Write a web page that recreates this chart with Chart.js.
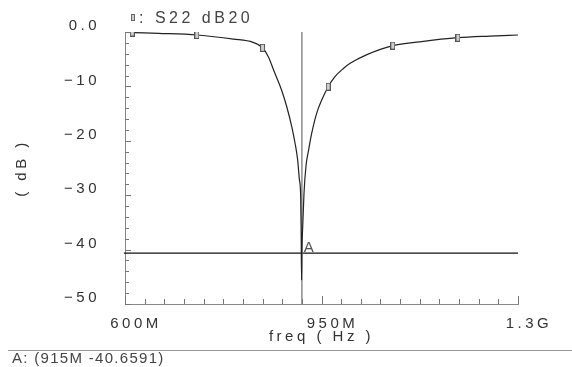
<!DOCTYPE html>
<html>
<head>
<meta charset="utf-8">
<script src="https://cdn.jsdelivr.net/npm/chart.js@4/dist/chart.umd.min.js"></script>
<style>
  body { margin: 0; background: #fff; }
  #wrap { position: relative; width: 572px; height: 367px; }
  #legend {
    position: absolute; left: 131px; top: 10px;
    font: 16px/16px "Liberation Sans", sans-serif; letter-spacing: 3.5px; color: #444;
    white-space: nowrap;
  }
  #legend .mk {
    display: inline-block; width: 2px; height: 5px; border: 1px solid #666;
    background: #ccc; margin-right: 4px; vertical-align: 2px;
  }
  #rule { position: absolute; left: 8px; right: 0; top: 350px; border-top: 1px solid #999; }
  #readout {
    position: absolute; left: 12px; top: 350px;
    font: 15px/15px "Liberation Sans", sans-serif; letter-spacing: 1.3px; color: #444;
    white-space: nowrap;
  }
</style>
</head>
<body>
<div id="wrap">
  <canvas id="c" width="572" height="367" style="width:572px;height:367px"></canvas>
  <div id="legend"><span class="mk"></span>: S22 dB20</div>
  <div id="rule"></div>
  <div id="readout">A: (915M -40.6591)</div>
</div>
<script>
// S22 sweep, frequency in MHz
const freqMHz = [600, 613, 660, 728, 793, 828, 845, 855, 867, 879, 888, 897, 903, 907.5, 910.5, 913, 913.8,
  914.5, 915, 916.5, 918.8, 922.5, 926.5, 932.6, 941.5, 950.4, 962, 974, 989, 1001, 1030, 1077, 1125, 1193,
  1250, 1300];
const s22dB = [-0.05, -0.1, -0.25, -0.55, -1.3, -1.9, -2.9, -4.5, -7.6, -10.7, -13.7, -17.4, -20.5, -23.5, -27, -30.5, -37,
  -45.6, -40.66, -35.8, -29.7, -24.5, -22, -18.6, -14.9, -12.5, -10.05, -8.2, -6.7, -5.75, -4.2, -2.5, -1.8, -1.05,
  -0.75, -0.55];
const markerFreqs = [613, 728, 845, 962, 1077, 1193];

const cursorFreq = 915;
const cursorValue = -40.6591;

const xTickValues = [600, 950, 1300];
const xTickLabels = ["600M", "950M", "1.3G"];
const yTickValues = [0, -10, -20, -30, -40, -50];
const yTickLabels = ["0.0", "\u221210", "\u221220", "\u221230", "\u221240", "\u221250"];

// little box marker like the simulator draws
const mark = document.createElement("canvas");
mark.width = 5; mark.height = 8;
const mctx = mark.getContext("2d");
mctx.fillStyle = "#ccc";
mctx.fillRect(1, 1, 3, 6);
mctx.strokeStyle = "#555";
mctx.strokeRect(0.5, 0.5, 4, 7);

const spacing = {
  id: "spacing",
  beforeUpdate(chart) { chart.ctx.letterSpacing = "3.5px"; },
  beforeDraw(chart) { chart.ctx.letterSpacing = "3.5px"; },
};

// inward tick marks + cursor label
const innerTicks = {
  id: "innerTicks",
  afterDraw(chart) {
    const { ctx, scales: { x, y } } = chart;
    ctx.save();
    ctx.strokeStyle = "#777";
    ctx.lineWidth = 1;
    ctx.beginPath();
    for (let v = -50; v <= 0; v += 2) {
      const py = Math.round(y.getPixelForValue(v)) + 0.5;
      const len = v % 10 === 0 ? 6 : 4;
      ctx.moveTo(x.left, py);
      ctx.lineTo(x.left + len, py);
    }
    for (let f = 600; f <= 1300; f += 35) {
      const px = Math.round(x.getPixelForValue(f)) + 0.5;
      const len = (f - 600) % 350 === 0 ? 8 : 5;
      ctx.moveTo(px, y.bottom);
      ctx.lineTo(px, y.bottom - len);
    }
    ctx.stroke();
    ctx.letterSpacing = "0px";
    ctx.fillStyle = "#555";
    ctx.font = '15px "Liberation Sans"';
    ctx.textBaseline = "alphabetic";
    ctx.fillText("A", x.getPixelForValue(cursorFreq) + 2, y.getPixelForValue(cursorValue) - 1);
    ctx.restore();
  },
};

Chart.defaults.font.family = '"Liberation Sans", sans-serif';
Chart.defaults.font.size = 15;
Chart.defaults.color = "#333";

new Chart(document.getElementById("c"), {
  type: "line",
  data: {
    datasets: [
      {
        label: "S22 dB20",
        data: freqMHz.map((f, i) => ({ x: f, y: s22dB[i] })),
        borderColor: "#222",
        borderWidth: 1.2,
        cubicInterpolationMode: "monotone",
        pointStyle: mark,
        pointRadius: (c) => (c.raw && markerFreqs.includes(c.raw.x) ? 3 : 0),
        pointHoverRadius: 0,
      },
      {
        label: "cursor x",
        data: [{ x: cursorFreq, y: 0 }, { x: cursorFreq, y: -50 }],
        borderColor: "#999",
        borderWidth: 1,
        pointRadius: 0,
      },
      {
        label: "cursor y",
        data: [{ x: 598, y: cursorValue }, { x: 1300, y: cursorValue }],
        borderColor: "#111",
        borderWidth: 1.2,
        pointRadius: 0,
        clip: false,
      },
    ],
  },
  options: {
    responsive: false,
    animation: false,
    events: [],
    layout: { padding: { left: 0, top: 32, right: 54, bottom: 21 } },
    plugins: { legend: { display: false }, tooltip: { enabled: false } },
    scales: {
      x: {
        type: "linear",
        min: 600,
        max: 1300,
        grid: { display: false },
        border: { display: true, color: "#888", width: 1 },
        afterBuildTicks: (s) => { s.ticks = xTickValues.map((v) => ({ value: v })); },
        afterFit: (s) => { s.height = 42; },
        ticks: {
          autoSkip: false,
          maxRotation: 0,
          padding: 3,
          labelOffset: 11,
          callback: (v) => xTickLabels[xTickValues.indexOf(v)],
        },
        title: { display: true, text: "freq ( Hz )", padding: { top: 0, bottom: 0 }, font: { size: 15 } },
      },
      y: {
        type: "linear",
        min: -50,
        max: 0,
        grid: { display: false },
        border: { display: true, color: "#888", width: 1 },
        afterBuildTicks: (s) => { s.ticks = yTickValues.map((v) => ({ value: v })); },
        afterFit: (s) => { s.width = 125; },
        ticks: {
          autoSkip: false,
          padding: 17,
          labelOffset: -6,
          callback: (v) => yTickLabels[yTickValues.indexOf(v)],
        },
        title: { display: true, text: "( dB )", padding: { top: 13, bottom: 0 }, font: { size: 15 } },
      },
    },
  },
  plugins: [spacing, innerTicks],
});
</script>
</body>
</html>
